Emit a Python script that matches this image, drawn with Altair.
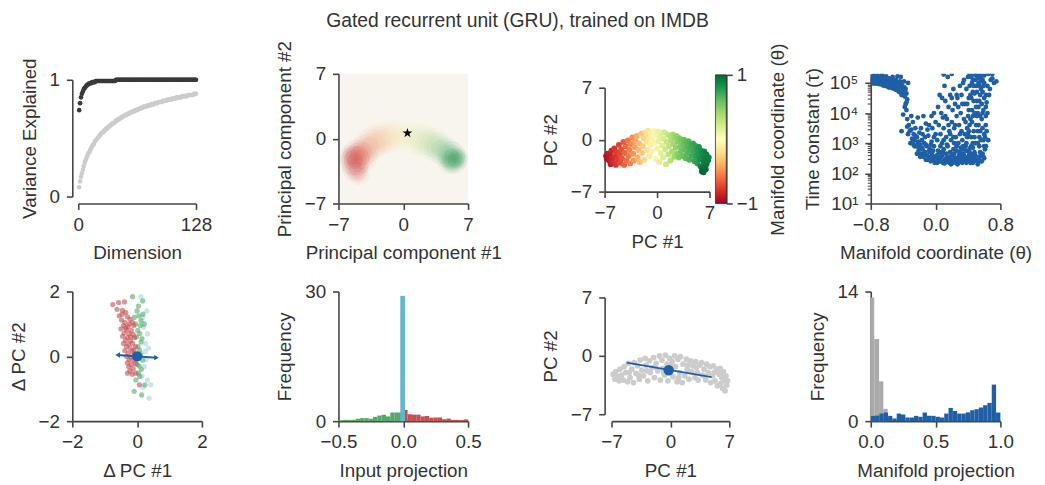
import altair as alt
import numpy as np
import pandas as pd

FONT = "Liberation Sans"
TXT = "#333333"
AXC = "#454545"
BLUE = "#1f5fa6"
MINUS = "replace(datum.label, '-', '\u2212')"
TITLE = "Gated recurrent unit (GRU), trained on IMDB"

# ---------------- Panel 1: variance explained ----------------
dims = list(range(1, 129))
var_top = [
    0.74, 0.80, 0.85, 0.88, 0.90, 0.92, 0.93, 0.94, 0.95, 0.96,
    0.96, 0.97, 0.97, 0.97, 0.98, 0.98, 0.98, 0.98, 0.99, 0.99,
    0.99, 0.99, 0.99, 0.99, 0.99, 0.99, 0.99, 0.99, 0.99, 0.99,
    0.99, 0.99, 0.99, 0.99, 0.99, 0.99, 0.99, 0.99, 0.99, 0.99,
    1.00, 1.00, 1.00, 1.00, 1.00, 1.00, 1.00, 1.00, 1.00, 1.00,
    1.00, 1.00, 1.00, 1.00, 1.00, 1.00, 1.00, 1.00, 1.00, 1.00,
    1.00, 1.00, 1.00, 1.00, 1.00, 1.00, 1.00, 1.00, 1.00, 1.00,
    1.00, 1.00, 1.00, 1.00, 1.00, 1.00, 1.00, 1.00, 1.00, 1.00,
    1.00, 1.00, 1.00, 1.00, 1.00, 1.00, 1.00, 1.00, 1.00, 1.00,
    1.00, 1.00, 1.00, 1.00, 1.00, 1.00, 1.00, 1.00, 1.00, 1.00,
    1.00, 1.00, 1.00, 1.00, 1.00, 1.00, 1.00, 1.00, 1.00, 1.00,
    1.00, 1.00, 1.00, 1.00, 1.00, 1.00, 1.00, 1.00, 1.00, 1.00,
    1.00, 1.00, 1.00, 1.00, 1.00, 1.00, 1.00, 1.00,
]
var_all = [
    0.08, 0.13, 0.17, 0.20, 0.23, 0.26, 0.29, 0.31, 0.33, 0.35,
    0.37, 0.38, 0.40, 0.41, 0.43, 0.44, 0.45, 0.47, 0.48, 0.49,
    0.50, 0.51, 0.52, 0.53, 0.54, 0.55, 0.55, 0.56, 0.57, 0.58,
    0.58, 0.59, 0.60, 0.60, 0.61, 0.62, 0.62, 0.63, 0.63, 0.64,
    0.65, 0.65, 0.66, 0.66, 0.67, 0.67, 0.68, 0.68, 0.69, 0.69,
    0.70, 0.70, 0.70, 0.71, 0.71, 0.72, 0.72, 0.72, 0.73, 0.73,
    0.73, 0.74, 0.74, 0.74, 0.75, 0.75, 0.75, 0.76, 0.76, 0.76,
    0.77, 0.77, 0.77, 0.77, 0.78, 0.78, 0.78, 0.78, 0.79, 0.79,
    0.79, 0.79, 0.80, 0.80, 0.80, 0.80, 0.81, 0.81, 0.81, 0.81,
    0.81, 0.82, 0.82, 0.82, 0.82, 0.82, 0.83, 0.83, 0.83, 0.83,
    0.83, 0.84, 0.84, 0.84, 0.84, 0.84, 0.85, 0.85, 0.85, 0.85,
    0.85, 0.85, 0.86, 0.86, 0.86, 0.86, 0.86, 0.86, 0.87, 0.87,
    0.87, 0.87, 0.87, 0.87, 0.87, 0.88, 0.88, 0.88,
]

# ---------------- Panel 2: density cloud ----------------
cloud_x = [-5.2, -5.0, -5.2, -4.5, -5.6, -4.8, -4.2,
           -3.6, -3.0, -2.3, -1.6, -0.8, 0.0, 0.8, 1.6, 2.4, 3.2, 3.9,
           4.6, 5.2, 5.5, 5.9, 5.0]
cloud_y = [-2.4, -1.6, -3.2, -2.0, -2.0, -3.8, -1.2,
           -0.7, -0.3, 0.0, 0.2, 0.3, 0.3, 0.2, 0.0, -0.3, -0.6, -1.0,
           -1.5, -1.8, -2.4, -2.1, -2.5]
cloud_t = [-0.85, -0.8, -0.85, -0.75, -0.85, -0.8, -0.65,
           -0.6, -0.5, -0.4, -0.3, -0.2, -0.05, 0.1, 0.25, 0.4, 0.55, 0.65,
           0.75, 0.82, 0.86, 0.88, 0.8]
cloud_w = [0.32, 0.26, 0.26, 0.22, 0.24, 0.16, 0.18,
           0.17, 0.15, 0.14, 0.13, 0.12, 0.12, 0.12, 0.13, 0.14, 0.15, 0.17,
           0.22, 0.30, 0.34, 0.28, 0.22]
cloud_s = [900, 800, 700, 1000, 600, 500, 900,
           1100, 1100, 1100, 1100, 1100, 1100, 1100, 1100, 1100, 1100, 1000,
           900, 800, 650, 450, 600]
star_x = [0.45]
star_y = [0.6]

# ---------------- Panel 3 / 7: state space ----------------
pc_x = [-6.8, -6.7, -6.6, -6.4, -6.3, -6.2, -6.1, -6.0, -5.8, -5.7, -5.6, -5.5, -5.4, -5.3,
        -5.1, -5.0, -4.9, -4.8, -4.7, -4.5, -4.4, -4.3, -4.2, -4.1, -3.9, -3.8, -3.7, -3.6, -3.5,
        -3.3, -3.2, -3.1, -3.0, -2.9, -2.7, -2.6, -2.5, -2.4, -2.3, -2.1, -2.0, -1.9, -1.8, -1.7,
        -1.5, -1.4, -1.3, -1.2, -1.1, -1.0, -0.9, -0.8, -0.7, -0.6,
        -0.4, -0.3, -0.2, -0.1, 0.0, 0.1, 0.2, 0.3, 0.4, 0.5,
        0.6, 0.7, 0.8, 0.9, 1.0, 1.1, 1.2, 1.3, 1.4, 1.5,
        1.6, 1.7, 1.8, 1.9, 2.0, 2.1, 2.2, 2.3, 2.4, 2.5,
        2.6, 2.7, 2.8, 2.9, 3.0, 3.1, 3.2, 3.3, 3.4, 3.5,
        3.6, 3.7, 3.8, 3.9, 4.0, 4.1, 4.2, 4.3, 4.4, 4.5,
        4.6, 4.7, 4.8, 4.9, 5.0, 5.1, 5.2, 5.3, 5.4, 5.5,
        5.6, 5.7, 5.8, 5.9, 6.0, 6.1, 6.1, 6.2, 6.3, 6.3, 6.4, 6.5, 6.6, 6.6, 6.8, 6.9, 6.0, 6.2]
pc_y = [-2.2, -2.6, -1.9, -2.8, -2.0, -3.3, -1.5, -2.5, -3.0, -1.2, -2.2, -3.4, -1.7, -2.7,
        -0.7, -2.0, -3.1, -1.3, -2.5, -0.3, -3.4, -1.8, -0.9, -2.8, -0.1, -2.2, -1.4, -3.2, -0.6,
        0.3, -1.9, -2.8, -1.0, -0.2, 0.5, -2.4, -1.4, -0.5, -3.0, 0.8, -1.8, -0.9, 0.2, -2.7,
        1.0, -0.3, -1.4, 1.2, 0.4, -2.2, -0.7, 0.9, -1.6, 0.1,
        1.2, -0.4, -2.6, 0.6, -1.2, 1.1, -0.2, -3.0, 0.3, -1.8,
        0.9, -0.8, -2.4, 0.1, 1.0, -1.3, -3.3, -0.3, 0.7, -2.0,
        -0.9, 0.5, -2.8, -0.1, -1.6, 0.7, -0.6, -2.3, 0.2, -1.1,
        0.5, -1.9, -0.3, -2.4, 0.2, -1.0, -1.6, -0.1, -2.2, -0.6,
        0.0, -1.3, -2.5, -0.4, -1.9, -0.9, -0.2, -2.7, -1.4, -0.6,
        -2.2, -1.0, -0.5, -1.7, -2.9, -0.8, -2.3, -1.3, -3.2, -1.9,
        -1.0, -2.6, -3.6, -1.5, -3.9, -2.2, -4.2, -3.0, -1.6, -3.7, -2.6, -4.0, -2.0, -3.3, -2.8, -2.4, -4.3, -4.4]
pc_t = [-0.95, -0.93, -0.9, -0.9, -0.88, -0.88, -0.85, -0.85, -0.82, -0.8, -0.8, -0.78, -0.77, -0.76,
        -0.74, -0.72, -0.72, -0.7, -0.68, -0.66, -0.65, -0.63, -0.62, -0.6, -0.58, -0.56, -0.55, -0.54, -0.52,
        -0.5, -0.48, -0.46, -0.45, -0.43, -0.4, -0.38, -0.36, -0.34, -0.33, -0.3, -0.28, -0.26, -0.24, -0.22,
        -0.2, -0.18, -0.16, -0.14, -0.12, -0.1, -0.08, -0.06, -0.04, -0.02,
        0.0, 0.02, 0.03, 0.05, 0.06, 0.08, 0.1, 0.11, 0.12, 0.14,
        0.15, 0.17, 0.18, 0.2, 0.21, 0.23, 0.24, 0.26, 0.27, 0.29,
        0.3, 0.32, 0.33, 0.35, 0.36, 0.38, 0.39, 0.41, 0.42, 0.44,
        0.45, 0.47, 0.48, 0.5, 0.51, 0.52, 0.54, 0.55, 0.56, 0.57,
        0.58, 0.6, 0.61, 0.62, 0.63, 0.64, 0.65, 0.66, 0.67, 0.68,
        0.69, 0.7, 0.71, 0.72, 0.74, 0.75, 0.76, 0.77, 0.78, 0.8,
        0.81, 0.83, 0.88, 0.84, 0.93, 0.86, 0.97, 0.9, 0.87, 0.95, 0.9, 0.98, 0.9, 0.94, 0.92, 0.9, 1.0, 1.0]

gray_x = [-6.8, -6.6, -6.5, -6.3, -6.1, -6.0, -5.8, -5.6, -5.5, -5.3, -5.1, -5.0, -4.8, -4.6, -4.4,
          -4.3, -4.1, -3.9, -3.7, -3.6, -3.4, -3.2, -3.0, -2.9, -2.7, -2.5, -2.4, -2.2, -2.0, -1.9,
          -1.7, -1.5, -1.3, -1.2, -1.0, -0.9, -0.7, -0.6, -0.4, -0.3, -0.1, 0.0, 0.2, 0.3, 0.5,
          0.6, 0.8, 0.9, 1.1, 1.2, 1.4, 1.5, 1.7, 1.9, 2.0, 2.2, 2.4, 2.5, 2.7, 2.9,
          3.0, 3.2, 3.3, 3.5, 3.7, 3.8, 4.0, 4.2, 4.3, 4.5, 4.7, 4.8, 5.0, 5.1, 5.3,
          5.5, 5.6, 5.8, 5.9, 6.0, 6.1, 6.2, 6.3, 6.4, 6.5, 6.6, 6.7, 6.8,
          -5.9, -4.9, -3.8, -2.8, -1.8, -0.8, 0.1, 1.0, 2.1, 3.1, 4.1, 5.2, 6.0]
gray_y = [-2.2, -2.8, -1.9, -2.5, -3.0, -1.6, -2.3, -2.9, -1.3, -2.0, -3.1, -0.9, -2.6, -1.6, -3.2,
          -0.8, -2.1, -1.2, -2.8, -0.5, -1.7, -2.4, -0.3, -1.1, -3.0, -0.6, -2.0, -1.4, -0.2, -2.6,
          -0.9, -1.8, 0.0, -2.9, -0.5, -1.5, -2.3, 0.1, -1.0, -3.0, -0.3, -1.9, -0.7, -2.5, 0.0,
          -1.3, -3.1, -0.4, -2.0, -0.1, -3.2, -1.0, -2.4, -0.4, -1.6, -2.8, -0.6, -1.9, -1.2, -2.6,
          -0.7, -2.0, -2.9, -1.1, -0.8, -2.3, -1.6, -2.9, -1.0, -2.0, -1.3, -3.2, -2.4, -1.2, -3.0,
          -1.6, -3.6, -2.2, -1.5, -3.3, -2.6, -3.9, -1.9, -2.9, -4.2, -2.4, -3.5, -3.0,
          -2.7, -2.0, -2.3, -1.8, -1.3, -2.0, -1.2, -2.6, -1.1, -1.4, -2.5, -2.0, -2.0]
fit_x = [-5.2, 4.9]
fit_y = [-0.8, -2.55]
fit_center_x = [-0.2]
fit_center_y = [-1.73]

# ---------------- Panel 4: time constants ----------------
tc_theta = [
    -0.80, -0.79, -0.78, -0.77, -0.76, -0.75, -0.74, -0.73, -0.72, -0.71, -0.70, -0.69, -0.68, -0.67,
    -0.66, -0.65, -0.64, -0.63, -0.62, -0.61, -0.60, -0.59, -0.58, -0.57, -0.56, -0.55, -0.54, -0.53,
    -0.52, -0.51, -0.50, -0.49, -0.48, -0.47, -0.46, -0.45, -0.44, -0.43, -0.42, -0.41, -0.40, -0.39,
    -0.38, -0.37, -0.36, -0.35, -0.34, -0.76, -0.70, -0.66, -0.60, -0.55, -0.50, -0.47, -0.44, -0.41,
    -0.40, -0.38, -0.36, -0.35, -0.42, -0.33, -0.32, -0.30, -0.28, -0.27, -0.26, -0.25, -0.24, -0.23,
    -0.22, -0.21, -0.20, -0.19, -0.18, -0.17, -0.16, -0.15, -0.14, -0.13, -0.12, -0.11, -0.10, -0.09,
    -0.08, -0.07, -0.06, -0.05, -0.04, -0.03, -0.02, -0.01, 0.00, 0.00, -0.31, -0.29, -0.26, -0.20,
    -0.16, -0.12, -0.10, -0.08, -0.06, -0.04, -0.02, -0.22, -0.15,
    0.02, 0.04, 0.05, 0.06, 0.08, 0.09, 0.10, 0.11, 0.12, 0.13, 0.14, 0.15, 0.16, 0.17, 0.18, 0.19,
    0.20, 0.21, 0.22, 0.23, 0.24, 0.25, 0.26, 0.27, 0.28, 0.29, 0.30, 0.31, 0.32, 0.33, 0.34, 0.35,
    0.02, 0.04, 0.06, 0.07, 0.08, 0.10, 0.12, 0.13, 0.14, 0.16, 0.17, 0.18, 0.19, 0.20, 0.21, 0.22,
    0.23, 0.24, 0.25, 0.26, 0.27, 0.28, 0.29, 0.11, 0.05, 0.15, 0.09,
    0.30, 0.31, 0.32, 0.33, 0.34, 0.35, 0.36, 0.37, 0.38, 0.39, 0.40, 0.41, 0.42, 0.43, 0.44, 0.45,
    0.46, 0.47, 0.48, 0.49, 0.50, 0.51, 0.52, 0.53, 0.54, 0.55, 0.56, 0.57, 0.58, 0.59, 0.60, 0.61, 0.62,
    0.36, 0.38, 0.40, 0.42, 0.44, 0.46, 0.48, 0.50, 0.52, 0.54, 0.56, 0.58, 0.60,
    0.40, 0.42, 0.44, 0.46, 0.48, 0.50, 0.52, 0.54, 0.56, 0.58, 0.60, 0.62, 0.45, 0.47, 0.51, 0.53,
    0.55, 0.57, 0.59, 0.43, 0.41, 0.39, 0.37,
    0.42, 0.48, 0.55, 0.60, 0.65, 0.70, 0.75, 0.64, 0.66, 0.68, 0.63, 0.65, 0.62, 0.64, 0.10, 0.20,
    -0.795, -0.785, -0.775, -0.765, -0.755, -0.745, -0.735, -0.725, -0.715, -0.705, -0.695, -0.685,
    -0.675, -0.665, -0.655, -0.645, -0.635, -0.625, -0.615, -0.605, -0.595, -0.585, -0.575, -0.565,
    -0.545, -0.535, -0.525, -0.515, -0.505, -0.495, -0.485, -0.465, -0.455, -0.435, -0.425, -0.395,
    -0.385, -0.37, -0.36,
    -0.34, -0.30, -0.28, -0.25, -0.23, -0.21, -0.19, -0.17, -0.14, -0.12, -0.10, -0.08, -0.06, -0.03,
    -0.01, -0.27, -0.18, -0.13, -0.05, -0.35,
    0.01, 0.03, 0.05, 0.07, 0.09, 0.11, 0.13, 0.15, 0.17, 0.19, 0.21, 0.23, 0.25, 0.27, 0.29, 0.31,
    0.33, 0.35, 0.37, 0.39, 0.41, 0.43, 0.45, 0.47, 0.49, 0.51, 0.53, 0.55, 0.57, 0.59, 0.06, 0.14,
    0.22, 0.30, 0.38, 0.46, 0.54, 0.02, 0.26, 0.34,
    0.38, 0.40, 0.42, 0.44, 0.46, 0.48, 0.50, 0.52, 0.54, 0.56, 0.58, 0.60, 0.39, 0.41, 0.43, 0.45,
    0.47, 0.49, 0.51, 0.53, 0.55, 0.57, 0.59, 0.61, 0.44, 0.50, 0.56, 0.48, 0.52, 0.58, 0.62, 0.60,
    0.54, 0.46, 0.36, 0.34, 0.32, 0.40, 0.62, 0.63,
    -0.02, 0.00, 0.03, 0.08, 0.12, 0.18, 0.20, 0.24, 0.26, 0.28, 0.22, 0.16, -0.05, 0.10, 0.30, 0.33,
    0.35, 0.70, 0.72, 0.67,
]
tc_log10 = [
    5.05, 5.10, 5.00, 5.15, 5.08, 5.02, 5.12, 5.20, 5.05, 4.98, 5.10, 5.18, 5.03, 4.97,
    5.12, 5.20, 5.00, 4.95, 5.10, 5.22, 4.93, 5.05, 4.90, 5.15, 4.95, 4.88, 5.02, 5.20,
    4.85, 4.95, 4.80, 5.10, 4.90, 4.75, 5.00, 4.70, 4.85, 5.20, 4.60, 4.90, 4.75, 5.05,
    4.55, 4.80, 4.65, 4.45, 5.00, 5.25, 5.00, 5.27, 5.12, 5.10, 5.05, 5.22, 5.05, 4.70,
    3.95, 4.20, 4.35, 3.80, 3.40, 3.60, 3.40, 3.90, 3.70, 3.30, 3.10, 3.50, 2.90, 3.20,
    3.00, 2.75, 3.35, 2.95, 2.65, 3.10, 2.80, 2.55, 3.00, 2.70, 2.45, 2.90, 2.60, 3.25,
    2.50, 2.80, 2.40, 3.05, 2.60, 2.45, 2.90, 2.55, 2.40, 3.30, 3.00, 3.15, 2.90, 2.85,
    3.30, 3.65, 3.45, 3.60, 2.70, 3.50, 3.20, 3.85, 3.90,
    2.35, 2.50, 2.70, 2.40, 2.60, 2.35, 2.80, 2.45, 2.40, 2.65, 2.38, 2.90, 2.50, 2.35, 2.70, 2.45,
    2.33, 2.60, 2.40, 3.00, 2.50, 2.35, 2.75, 2.45, 2.35, 2.60, 2.40, 2.85, 2.50, 2.35, 2.65, 2.45,
    3.10, 3.60, 3.30, 4.00, 3.00, 3.50, 4.40, 3.20, 3.80, 4.20, 3.40, 4.60, 3.10, 3.70, 4.10, 4.80,
    3.50, 4.30, 3.20, 3.90, 4.50, 3.00, 3.60, 4.90, 4.60, 5.20, 3.85,
    3.30, 4.00, 4.60, 3.10, 5.00, 3.80, 4.30, 2.90, 4.80, 3.50, 5.20, 4.10, 2.70, 4.60, 3.20, 5.00,
    3.90, 4.40, 2.50, 5.10, 3.60, 4.70, 3.00, 4.20, 5.20, 3.40, 4.80, 2.60, 4.00, 3.10, 4.50, 2.80, 3.60,
    2.45, 2.35, 2.50, 2.40, 2.60, 2.35, 2.70, 2.45, 2.30, 2.55, 2.40, 2.65, 2.50,
    3.90, 4.90, 4.50, 5.10, 4.00, 4.90, 5.15, 4.40, 5.05, 4.70, 3.30, 4.20, 4.10, 3.40, 3.90, 3.60,
    4.60, 3.80, 4.90, 3.80, 3.40, 4.30, 3.70,
    5.30, 5.28, 5.30, 5.25, 5.30, 5.15, 5.05, 4.90, 4.60, 5.10, 3.40, 3.10, 2.90, 4.00, 5.28, 5.30,
    5.20, 5.12, 5.05, 4.98, 5.17, 5.08, 4.98, 5.15, 5.25, 5.05, 4.96, 5.10,
    5.20, 5.00, 4.92, 5.15, 5.05, 4.90, 5.00, 5.15, 4.88, 5.00, 4.85, 5.05,
    4.95, 4.82, 5.10, 4.90, 4.98, 4.78, 5.00, 4.85, 4.95, 4.70, 5.00, 4.60,
    4.85, 4.30, 4.10,
    3.30, 3.45, 3.05, 3.25, 2.65, 3.05, 2.55, 2.85, 2.60, 2.95, 2.45, 2.75, 2.95, 2.75,
    2.35, 2.95, 3.50, 3.20, 2.50, 3.55,
    2.50, 2.75, 2.40, 2.55, 2.70, 2.33, 2.50, 2.40, 2.55, 2.30, 2.45, 2.65, 2.50, 2.30, 2.50, 2.55,
    2.45, 2.60, 2.50, 2.45, 2.60, 2.35, 2.50, 2.45, 2.60, 2.40, 2.45, 2.70, 2.40, 2.55, 2.90, 2.95,
    2.80, 2.70, 2.75, 2.85, 2.90, 2.60, 2.90, 2.80,
    3.00, 3.30, 3.60, 2.90, 4.70, 3.20, 4.20, 3.40, 4.90, 3.10, 3.50, 2.90, 3.20, 4.50, 2.85, 3.70,
    4.90, 3.00, 4.40, 5.00, 3.90, 4.30, 4.10, 3.20, 5.20, 5.25, 5.20, 4.65, 4.00, 5.10, 4.60, 5.00,
    3.20, 3.00, 3.30, 2.90, 3.40, 2.75, 3.90, 4.35,
    4.00, 3.70, 4.20, 4.50, 3.90, 3.30, 4.50, 3.60, 4.60, 4.20, 3.20, 3.60, 3.90, 3.10, 4.90, 4.30,
    5.10, 5.30, 5.00, 4.80,
]
tau_major = [10, 100, 1000, 10000, 100000]
tau_minor = [20, 30, 40, 50, 60, 70, 80, 90,
             200, 300, 400, 500, 600, 700, 800, 900,
             2000, 3000, 4000, 5000, 6000, 7000, 8000, 9000,
             20000, 30000, 40000, 50000, 60000, 70000, 80000, 90000]

# ---------------- Panel 5: input-driven displacement ----------------
neg_dx = [-0.75, -0.57, -0.39, -0.62, -0.45, -0.35, -0.55, -0.30, -0.48, -0.22, -0.38, -0.15, -0.42, -0.28,
          -0.10, -0.50, -0.33, -0.18, -0.40, -0.25, -0.12, -0.45, -0.30, -0.08, -0.36, -0.20, -0.42, -0.27,
          -0.14, -0.33, -0.05, -0.22, -0.38, -0.15, -0.28, -0.08, -0.33, -0.20, -0.25, -0.12, -0.30, -0.18,
          -0.05, -0.26, -0.12, -0.22, -0.30, -0.15, -0.04, 0.07, -0.35, -0.24, -0.46, -0.20, -0.10]
neg_dy = [1.60, 1.66, 1.68, 1.45, 1.42, 1.35, 1.25, 1.22, 1.12, 1.15, 1.05, 1.05, 0.95, 0.92,
          0.95, 0.85, 0.82, 0.80, 0.72, 0.70, 0.68, 0.62, 0.58, 0.58, 0.50, 0.48, 0.40, 0.38,
          0.40, 0.30, 0.30, 0.25, 0.18, 0.15, 0.10, 0.08, 0.00, -0.02, -0.10, -0.12, -0.20, -0.25,
          -0.22, -0.32, -0.38, -0.45, -0.52, -0.55, -0.52, -0.88, 0.88, 1.00, 1.30, 0.60, 0.20]
pos_dx = [-0.14, 0.17, 0.12, 0.22, 0.02, 0.12, 0.07, 0.17, 0.04, -0.04, 0.24, -0.09, 0.14, 0.00, -0.09,
          0.05, 0.10, -0.02, 0.08, 0.15, 0.03, 0.10, -0.03, 0.06, 0.13, 0.00, 0.08, 0.18, -0.05, 0.04]
pos_dy = [1.84, 1.71, 1.10, 1.00, 0.80, 0.44, 0.19, -0.12, -0.52, -0.73, -0.88, -1.08, -1.19, 1.40, 1.20,
          1.25, 0.95, 0.60, 0.70, 0.55, 0.30, 0.05, -0.05, -0.30, -0.40, -0.25, -0.62, 1.30, 1.00, 1.55]
neu_dx = [0.12, 0.32, 0.22, 0.32, 0.42, 0.37, 0.17, 0.12, 0.25, 0.20, 0.28, 0.15, 0.30, 0.18, 0.25, 0.35]
neu_dy = [1.84, 0.70, -0.32, -0.73, -0.88, -1.29, 1.20, 0.09, 0.40, 0.90, -0.10, -0.60, 1.40, -0.95, 0.15, 0.25]
arrow_x = [-0.6, 0.6]
arrow_y = [0.04, -0.04]

# ---------------- Panel 6: input projection histogram ----------------
neg_hist = [0.2, 0.3, 0.3, 0.3, 0.55, 0.7, 0.7, 0.55, 1.0, 1.3, 1.5, 1.1, 2.0, 2.0, 2.0]
pos_hist = [2.6, 1.6, 1.5, 1.5, 1.1, 1.2, 0.8, 0.85, 0.85, 0.45, 0.6, 0.3, 0.3, 0.25, 0.4]
neutral_bin = [-0.023, 0.013]
neutral_height = [29.0]

# ---------------- Panel 8: manifold projection histogram ----------------
proj_hist = [0.57, 0.60, 0.82, 0.93, 0.57, 0.29, 0.82, 0.72, 0.39, 0.39, 0.57, 0.47, 0.93, 0.57, 0.57,
             0.47, 0.39, 0.82, 1.43, 1.10, 0.82, 0.82, 0.95, 1.18, 1.29, 1.47, 1.72, 1.97, 3.95, 0.93]
rand_edges = [0.0, 0.027, 0.064, 0.097, 0.13]
rand_hist = [13.35, 8.87, 4.3, 1.33]

# ======================================================================
W = 131


def ax(title, values, expr=MINUS, fmt=None, **kw):
    d = dict(title=title, values=values, labelExpr=expr, **kw)
    if fmt:
        d["format"] = fmt
    return alt.Axis(**d)


# Panel 1
df1 = pd.DataFrame({"d": dims * 2, "v": var_all + var_top,
                    "s": ["all"] * 128 + ["top"] * 128})
p1 = alt.Chart(df1).mark_circle(size=22, opacity=1).encode(
    x=alt.X("d:Q", scale=alt.Scale(domain=[0, 128], range=[6, 125]),
            axis=ax("Dimension", [0, 128], fmt="d")),
    y=alt.Y("v:Q", scale=alt.Scale(domain=[0, 1], range=[124, 6]),
            axis=ax("Variance Explained", [0, 1], fmt="d")),
    color=alt.Color("s:N", scale=alt.Scale(domain=["all", "top"], range=["#cccccc", "#3a3a3a"]),
                    legend=None),
    order=alt.Order("s:N"),
).properties(width=W, height=W)

# Panel 2
rings = [(1.0, 0.22), (0.6, 0.30), (0.3, 0.35)]
rows = []
for sm, am in rings:
    for x, y, t, w, s in zip(cloud_x, cloud_y, cloud_t, cloud_w, cloud_s):
        rows.append({"x": x, "y": y, "t": t, "op": w * am, "sz": s * sm})
df2 = pd.DataFrame(rows)
sc7 = alt.Scale(domain=[-7, 7])
cloud = alt.Chart(df2).mark_circle().encode(
    x=alt.X("x:Q", scale=sc7, axis=ax("Principal component #1", [-7, 0, 7])),
    y=alt.Y("y:Q", scale=sc7, axis=ax("Principal component #2", [-7, 0, 7])),
    color=alt.Color("t:Q", scale=alt.Scale(scheme="redyellowgreen", domain=[-1, 1]), legend=None),
    opacity=alt.Opacity("op:Q", scale=None),
    size=alt.Size("sz:Q", scale=None),
)
STAR = "M0,-1L0.224,-0.309L0.951,-0.309L0.363,0.118L0.588,0.809L0,0.382L-0.588,0.809L-0.363,0.118L-0.951,-0.309L-0.224,-0.309Z"
star = alt.Chart(pd.DataFrame({"x": star_x, "y": star_y})).mark_point(
    shape=STAR, filled=True, color="black", size=110, opacity=1).encode(x="x:Q", y="y:Q")
p2 = alt.layer(cloud, star).properties(
    width=W, height=W, view=alt.ViewBackground(fill="#f7f5ed", strokeWidth=0))

# Panel 3
df3 = pd.DataFrame({"x": pc_x, "y": pc_y, "t": pc_t})
pts3 = alt.Chart(df3).mark_circle(size=36, opacity=1).encode(
    x=alt.X("x:Q", scale=alt.Scale(domain=[-7, 7], range=[0, 106]), axis=ax("PC #1", [-7, 0, 7])),
    y=alt.Y("y:Q", scale=alt.Scale(domain=[-7, 7], range=[119, 14]), axis=ax("PC #2", [-7, 0, 7])),
    color=alt.Color("t:Q", scale=alt.Scale(scheme="redyellowgreen", domain=[-1, 1]), legend=None),
)
rdylgn = ["#a50026", "#d73027", "#f46d43", "#fdae61", "#fee08b", "#ffffbf",
          "#d9ef8b", "#a6d96a", "#66bd63", "#1a9850", "#006837"]
grad = alt.Gradient(gradient="linear", x1=0, x2=0, y1=1, y2=0,
                    stops=[alt.GradientStop(color=c, offset=i / 10) for i, c in enumerate(rdylgn)])
cbar = alt.Chart(pd.DataFrame({"lo": [-1.0], "hi": [1.0]})).mark_rect(
    color=grad, stroke="#333333", strokeWidth=0.8).encode(
    x=alt.value(112), x2=alt.value(123),
    y=alt.Y("lo:Q", scale=alt.Scale(domain=[-1, 1], range=[131, 1]),
            axis=alt.Axis(orient="right", values=[-1, 0, 1], format="d", labelExpr=MINUS, offset=-8,
                          title="Manifold coordinate (θ)", titleAngle=270, titleBaseline="top",
                          labelPadding=4, titlePadding=11)),
    y2="hi:Q",
)
p3 = alt.layer(pts3, cbar).resolve_scale(y="independent").properties(width=W, height=119)

# Panel 4
df4 = pd.DataFrame({"x": tc_theta, "tau": [10 ** v for v in tc_log10]})
sup = "['\u2070','\u00b9','\u00b2','\u00b3','\u2074','\u2075']"
logsc = alt.Scale(type="log", domain=[10, 2e5])
p4pts = alt.Chart(df4).mark_circle(size=24, opacity=1, color=BLUE, clip=True).encode(
    x=alt.X("x:Q", scale=alt.Scale(domain=[-0.8, 0.8]),
            axis=ax("Manifold coordinate (θ)", [-0.8, 0, 0.8], fmt=".1f")),
    y=alt.Y("tau:Q", scale=logsc,
            axis=alt.Axis(title="Time constant (τ)", values=tau_major, orient="left",
                          titlePadding=7,
                          labelExpr="'10' + " + sup + "[round(log(datum.value)/LN10)]")),
)
p4minor = alt.Chart(pd.DataFrame({"tau": tau_minor})).mark_tick(opacity=0).encode(
    y=alt.Y("tau:Q", scale=logsc,
            axis=alt.Axis(title="", values=tau_minor, orient="left", labels=False, domain=False,
                          tickSize=3.5, tickWidth=1.1)),
)
p4 = alt.layer(p4pts, p4minor).resolve_axis(y="independent").properties(width=W, height=W)

# Panel 5
df5 = pd.DataFrame({
    "x": neu_dx + pos_dx + neg_dx, "y": neu_dy + pos_dy + neg_dy,
    "g": ["neu"] * len(neu_dx) + ["pos"] * len(pos_dx) + ["neg"] * len(neg_dx),
})
sc2 = alt.Scale(domain=[-2, 2])
p5a = alt.Chart(df5).mark_circle(size=28).encode(
    x=alt.X("x:Q", scale=sc2, axis=ax("Δ PC #1", [-2, 0, 2])),
    y=alt.Y("y:Q", scale=sc2, axis=ax("Δ PC #2", [-2, 0, 2])),
    color=alt.Color("g:N", scale=alt.Scale(domain=["neg", "pos", "neu"],
                                           range=["#c44e52", "#55a868", "#9fd3e6"]), legend=None),
    opacity=alt.Opacity("g:N", scale=alt.Scale(domain=["neg", "pos", "neu"], range=[0.6, 0.6, 0.25]),
                        legend=None),
)
dfa = pd.DataFrame({"x": arrow_x, "y": arrow_y, "sh": ["triangle-left", "triangle-right"]})
p5l = alt.Chart(dfa).mark_line(color=BLUE, strokeWidth=2).encode(x="x:Q", y="y:Q")
p5h = alt.Chart(dfa).mark_point(filled=True, color=BLUE, size=30, opacity=1).encode(
    x="x:Q", y="y:Q", shape=alt.Shape("sh:N", scale=None))
p5d = alt.Chart(pd.DataFrame({"x": [0.0], "y": [0.0]})).mark_circle(
    color=BLUE, size=110, opacity=1).encode(x="x:Q", y="y:Q")
p5 = alt.layer(p5a, p5l, p5h, p5d).properties(width=W, height=W)

# Panel 6
e_neg = np.linspace(-0.5, 0.0, 16)
e_pos = np.linspace(0.0, 0.5, 16)
df6 = pd.DataFrame({
    "x0": list(e_neg[:-1]) + list(e_pos[:-1]) + [neutral_bin[0]],
    "x1": list(e_neg[1:]) + list(e_pos[1:]) + [neutral_bin[1]],
    "h": neg_hist + pos_hist + neutral_height,
    "g": ["neg"] * 15 + ["pos"] * 15 + ["neu"],
})
p6 = alt.Chart(df6).mark_rect(strokeWidth=0).encode(
    x=alt.X("x0:Q", scale=alt.Scale(domain=[-0.5, 0.5]),
            axis=ax("Input projection", [-0.5, 0, 0.5], fmt=".1f")),
    x2="x1:Q",
    y=alt.Y("h:Q", scale=alt.Scale(domain=[0, 30]), axis=ax("Frequency", [0, 30])),
    y2=alt.datum(0),
    color=alt.Color("g:N", scale=alt.Scale(domain=["neg", "pos", "neu"],
                                           range=["#55a868", "#c44e52", "#64b5cd"]), legend=None),
).properties(width=W, height=W)

# Panel 7
p7g = alt.Chart(pd.DataFrame({"x": gray_x, "y": gray_y})).mark_circle(
    size=34, color="#cccccc", opacity=1).encode(
    x=alt.X("x:Q", scale=alt.Scale(domain=[-7, 7], range=[7, 126]), axis=ax("PC #1", [-7, 0, 7])),
    y=alt.Y("y:Q", scale=alt.Scale(domain=[-7, 7], range=[124, 6]), axis=ax("PC #2", [-7, 0, 7])),
)
p7l = alt.Chart(pd.DataFrame({"x": fit_x, "y": fit_y})).mark_line(
    color=BLUE, strokeWidth=1.8).encode(x="x:Q", y="y:Q")
p7d = alt.Chart(pd.DataFrame({"x": fit_center_x, "y": fit_center_y})).mark_circle(
    color=BLUE, size=110, opacity=1).encode(x="x:Q", y="y:Q")
p7 = alt.layer(p7g, p7l, p7d).properties(width=W, height=W)

# Panel 8
e8 = np.linspace(0.0, 1.0, 31)
df8 = pd.DataFrame({
    "x0": rand_edges[:-1] + list(e8[:-1]),
    "x1": rand_edges[1:] + list(e8[1:]),
    "h": rand_hist + proj_hist,
    "g": ["rand"] * 4 + ["proj"] * 30,
    "o": [0] * 4 + [1] * 30,
})
p8 = alt.Chart(df8).mark_rect(strokeWidth=0).encode(
    x=alt.X("x0:Q", scale=alt.Scale(domain=[0, 1]),
            axis=ax("Manifold projection", [0, 0.5, 1], fmt=".1f")),
    x2="x1:Q",
    y=alt.Y("h:Q", scale=alt.Scale(domain=[0, 14]), axis=ax("Frequency", [0, 14])),
    y2=alt.datum(0),
    color=alt.Color("g:N", scale=alt.Scale(domain=["rand", "proj"], range=["#aaaaaa", BLUE]),
                    legend=None),
    order=alt.Order("o:Q"),
).properties(width=W, height=W)

chart = alt.concat(
    p1, p2, p3, p4, p5, p6, p7, p8, columns=4,
    spacing={"row": 89, "column": 138}, bounds="flush",
).properties(
    title=alt.TitleParams(TITLE, fontSize=19.5, font=FONT, fontWeight="normal", color=TXT,
                          anchor="middle", dx=-3, offset=9),
    padding={"left": 1, "top": 0, "right": 5, "bottom": 5},
).configure_view(strokeWidth=0).configure_axis(
    labelFont=FONT, titleFont=FONT, labelFontSize=19, titleFontSize=19, titleFontWeight="normal",
    labelColor=TXT, titleColor=TXT, domainColor=AXC, tickColor=AXC, domainWidth=1.6,
    tickWidth=1.6, tickSize=6, grid=False, labelPadding=6, titlePadding=10, labelFlush=False,
).configure_axisY(labelPadding=7)

chart.save("out.html", embed_options={"renderer": "svg", "actions": False})
